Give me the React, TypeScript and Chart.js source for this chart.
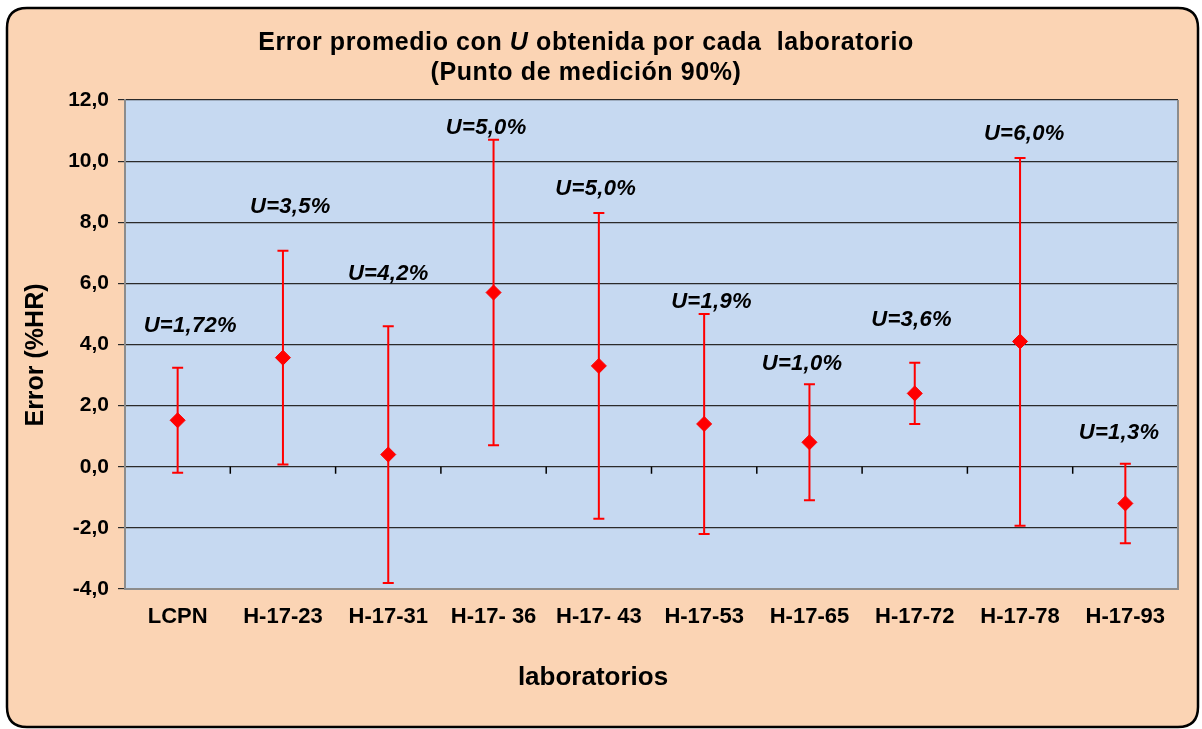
import React, { useEffect, useRef } from "react";
import { Chart, registerables } from "chart.js";

Chart.register(...registerables);

const categories = ["LCPN", "H-17-23", "H-17-31", "H-17- 36", "H-17- 43", "H-17-53", "H-17-65", "H-17-72", "H-17-78", "H-17-93"];
const errorValues = [1.52, 3.57, 0.4, 5.7, 3.3, 1.4, 0.8, 2.4, 4.1, -1.2];
const errorHigh = [3.24, 7.07, 4.6, 10.7, 8.3, 5.0, 2.7, 3.4, 10.1, 0.1];
const errorLow = [-0.2, 0.07, -3.8, 0.7, -1.7, -2.2, -1.1, 1.4, -1.93, -2.5];
const uLabels = ["U=1,72%", "U=3,5%", "U=4,2%", "U=5,0%", "U=5,0%", "U=1,9%", "U=1,0%", "U=3,6%", "U=6,0%", "U=1,3%"];
const uLabelY = [4.6, 8.5, 6.3, 11.1, 9.1, 5.4, 3.35, 4.8, 10.9, 1.1];
const uLabelDx = [0.12, 0.07, 0, -0.07, -0.03, 0.07, -0.07, -0.03, 0.04, -0.06];
const yTicks = { min: -4, max: 12, step: 2 };

const FONT = '"Liberation Sans", Arial, sans-serif';
const PEACH = "#FBD4B4";
const PLOT_BG = "#C6D9F1";
const RED = "#FF0000";

const customPlugin = {
  id: "custom",
  beforeDraw(chart: any) {
    const { ctx, chartArea } = chart;
    const w = chart.width, h = chart.height;
    ctx.save();
    ctx.fillStyle = "#ffffff";
    ctx.fillRect(0, 0, w, h);
    const x0 = 7, y0 = 8, x1 = 1198, y1 = 727, r = 20;
    ctx.beginPath();
    ctx.moveTo(x0 + r, y0);
    ctx.lineTo(x1 - r, y0);
    ctx.quadraticCurveTo(x1, y0, x1, y0 + r);
    ctx.lineTo(x1, y1 - r);
    ctx.quadraticCurveTo(x1, y1, x1 - r, y1);
    ctx.lineTo(x0 + r, y1);
    ctx.quadraticCurveTo(x0, y1, x0, y1 - r);
    ctx.lineTo(x0, y0 + r);
    ctx.quadraticCurveTo(x0, y0, x0 + r, y0);
    ctx.closePath();
    ctx.fillStyle = PEACH;
    ctx.fill();
    ctx.lineWidth = 2.5;
    ctx.strokeStyle = "#000";
    ctx.stroke();
    ctx.fillStyle = PLOT_BG;
    ctx.fillRect(chartArea.left, chartArea.top, chartArea.right - chartArea.left, chartArea.bottom - chartArea.top);
    ctx.restore();
  },
  beforeDatasetsDraw(chart: any) {
    const { ctx, chartArea, scales } = chart;
    const xs = scales.x, ys = scales.y;
    ctx.save();
    ctx.strokeStyle = "#8c8c8c";
    ctx.lineWidth = 2;
    ctx.beginPath();
    ctx.moveTo(chartArea.right, chartArea.top);
    ctx.lineTo(chartArea.right, chartArea.bottom);
    ctx.stroke();
    const y0 = ys.getPixelForValue(0);
    ctx.strokeStyle = "#000";
    ctx.lineWidth = 1.5;
    for (let i = 0; i < categories.length - 1; i++) {
      const xb = (xs.getPixelForValue(i) + xs.getPixelForValue(i + 1)) / 2;
      ctx.beginPath();
      ctx.moveTo(xb, y0);
      ctx.lineTo(xb, y0 + 7);
      ctx.stroke();
    }
    ctx.strokeStyle = RED;
    ctx.lineWidth = 2;
    for (let i = 0; i < categories.length; i++) {
      const x = xs.getPixelForValue(i);
      const yh = ys.getPixelForValue(errorHigh[i]);
      const yl = ys.getPixelForValue(errorLow[i]);
      ctx.beginPath();
      ctx.moveTo(x, yh);
      ctx.lineTo(x, yl);
      ctx.moveTo(x - 5.5, yh);
      ctx.lineTo(x + 5.5, yh);
      ctx.moveTo(x - 5.5, yl);
      ctx.lineTo(x + 5.5, yl);
      ctx.stroke();
    }
    ctx.restore();
  },
  afterDraw(chart: any) {
    const { ctx, scales } = chart;
    const xs = scales.x, ys = scales.y;
    ctx.save();
    ctx.fillStyle = "#000";
    ctx.textBaseline = "middle";
    ctx.font = `italic bold 22px ${FONT}`;
    ctx.letterSpacing = "0.3px";
    ctx.textAlign = "center";
    for (let i = 0; i < uLabels.length; i++) {
      ctx.fillText(uLabels[i], xs.getPixelForValue(i + uLabelDx[i]), ys.getPixelForValue(uLabelY[i]));
    }
    const cx = 586;
    ctx.letterSpacing = "0.6px";
    const parts = [
      { t: "Error promedio con ", f: `bold 25px ${FONT}` },
      { t: "U", f: `italic bold 25px ${FONT}` },
      { t: " obtenida por cada  laboratorio", f: `bold 25px ${FONT}` },
    ];
    let total = 0;
    for (const p of parts) { ctx.font = p.f; total += ctx.measureText(p.t).width; }
    let x = cx - total / 2;
    ctx.textAlign = "left";
    for (const p of parts) { ctx.font = p.f; ctx.fillText(p.t, x, 43); x += ctx.measureText(p.t).width; }
    ctx.textAlign = "center";
    ctx.font = `bold 25px ${FONT}`;
    ctx.fillText("(Punto de medición 90%)", cx, 73);
    ctx.letterSpacing = "0px";
    ctx.font = `bold 26px ${FONT}`;
    ctx.fillText("laboratorios", 593, 678);
    ctx.font = `bold 25px ${FONT}`;
    ctx.translate(36, 355);
    ctx.rotate(-Math.PI / 2);
    ctx.fillText("Error (%HR)", 0, 0);
    ctx.restore();
  },
};

export default function App() {
  const ref = useRef<HTMLCanvasElement>(null);
  useEffect(() => {
    if (!ref.current) return;
    const chart = new Chart(ref.current, {
      type: "line",
      data: {
        labels: categories,
        datasets: [
          {
            data: errorValues,
            showLine: false,
            pointStyle: "rectRot",
            pointRadius: 7.5,
            pointHoverRadius: 7.5,
            backgroundColor: RED,
            borderColor: RED,
            borderWidth: 1,
          },
        ],
      },
      options: {
        animation: false,
        responsive: false,
        events: [],
        layout: { padding: { top: 100, right: 24, left: 0, bottom: 0 } },
        plugins: { legend: { display: false }, title: { display: false }, tooltip: { enabled: false } },
        scales: {
          x: {
            type: "category",
            offset: true,
            grid: { display: false, drawTicks: false },
            border: { display: true, color: "#8c8c8c", width: 2 },
            ticks: { color: "#000", font: { family: FONT, size: 22, weight: "bold" }, padding: 15, maxRotation: 0, autoSkip: false },
            afterFit: (s: any) => { s.height = 140; },
          },
          y: {
            min: yTicks.min,
            max: yTicks.max,
            ticks: {
              stepSize: yTicks.step,
              color: "#000",
              padding: 9,
              font: { family: FONT, size: 21, weight: "bold" },
              callback: (v: any) => Number(v).toFixed(1).replace(".", ","),
            },
            grid: { color: "#2a2a2a", lineWidth: 1.2, tickLength: 7 },
            border: { display: true, color: "#8c8c8c", width: 2 },
            afterFit: (s: any) => { s.width = 125; },
          },
        },
      },
      plugins: [customPlugin],
    });
    return () => chart.destroy();
  }, []);
  return (
    <div style={{ position: "fixed", left: 0, top: 0, width: 1202, height: 729 }}>
      <canvas ref={ref} width={1202} height={729} style={{ width: 1202, height: 729 }} />
    </div>
  );
}
